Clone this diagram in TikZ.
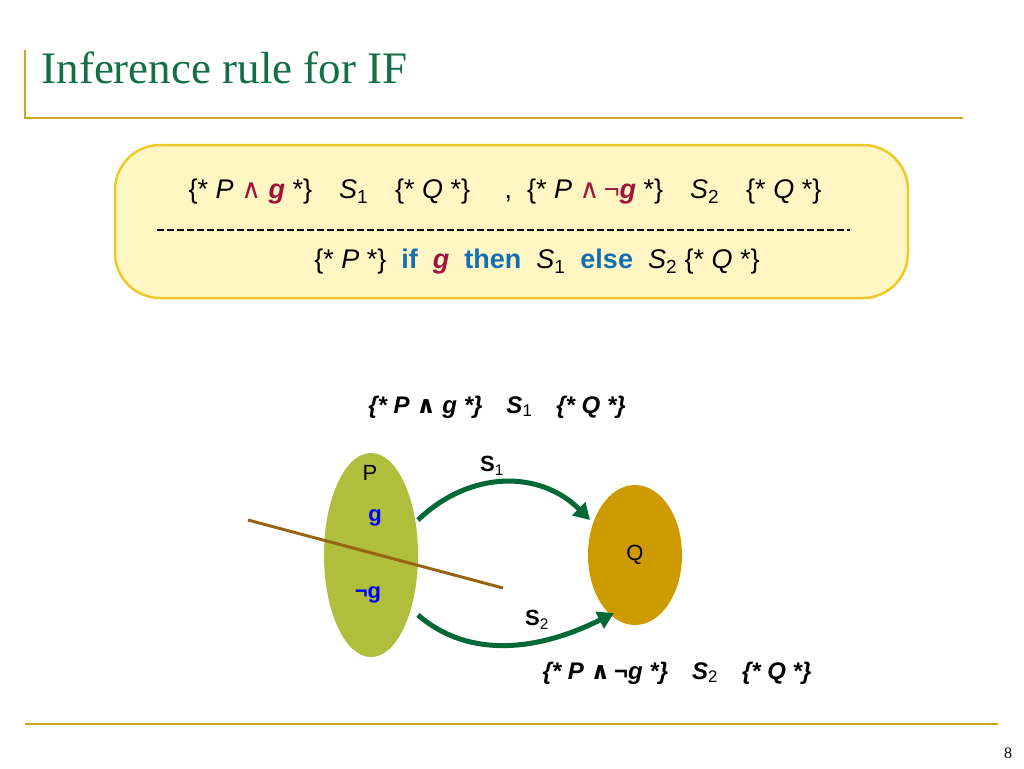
\documentclass[tikz,border=0pt]{standalone}
\usepackage{fontspec}
\setmainfont{Liberation Sans}
\newfontfamily\serif{Liberation Serif}
\newfontfamily\dv{DejaVu Sans}
\usetikzlibrary{arrows.meta,shapes.geometric}
\definecolor{titlegreen}{RGB}{20,110,70}
\definecolor{gold}{RGB}{205,165,30}
\definecolor{boxfill}{RGB}{255,246,196}
\definecolor{boxline}{RGB}{240,200,40}
\definecolor{kwblue}{RGB}{20,110,180}
\definecolor{gred}{RGB}{160,20,60}
\definecolor{olive}{RGB}{175,190,60}
\definecolor{qgold}{RGB}{205,155,0}
\definecolor{brown}{RGB}{150,100,20}
\definecolor{arrgreen}{RGB}{0,105,55}
\newcommand{\andsym}{{\dv\char"2227}}
\newcommand{\sub}[1]{\textsubscript{\upshape\mdseries #1}}
\tikzstyle{rule} = [font=\fontsize{27}{30}\selectfont]
\tikzstyle{tri} = [font=\fontsize{24}{28}\selectfont\bfseries\itshape]
\tikzstyle{set} = [ellipse, draw=none]
\tikzstyle{flow} = [line width=5pt, arrgreen, -{Triangle[length=16pt,width=18pt]}]
\tikzstyle{lbl} = [font=\fontsize{22}{26}\selectfont]
\begin{document}
\begin{tikzpicture}[x=1pt,y=-1pt]
\useasboundingbox (0,0) rectangle (1024,768);
% title
\node (title) [anchor=west, font=\serif\fontsize{45}{50}\selectfont, text=titlegreen] at (38,68) {Inference rule for IF};
\draw [gold, line width=2pt] (25,50) -- (25,118) -- (963,118);
% rule box
\node (rulebox) [draw=boxline, line width=2.5pt, fill=boxfill, rounded corners=45pt, minimum width=793pt, minimum height=153pt] at (511.5,221.5) {};
\node (prem) [rule] at (505,192) {\{* \textit{P} \textcolor{gred}{\andsym} \textcolor{gred}{\bfseries\itshape g} *\}\quad \textit{S}\sub{1}\quad \{* \textit{Q} *\}\quad\ ,\ \ \{* \textit{P} \textcolor{gred}{\andsym\,¬\bfseries\itshape g} *\}\quad \textit{S}\sub{2}\quad \{* \textit{Q} *\}};
\coordinate (dashL) at (157,230);
\coordinate (dashR) at (850,230);
\draw [line width=1.5pt, dash pattern=on 7pt off 3pt] (dashL) -- (dashR);
\node (concl) [rule] at (537,262) {\{* \textit{P} *\}\ \ \textcolor{kwblue}{\bfseries if}\ \ \textcolor{gred}{\bfseries\itshape g}\ \ \textcolor{kwblue}{\bfseries then}\ \ \textit{S}\sub{1}\ \ \textcolor{kwblue}{\bfseries else}\ \ \textit{S}\sub{2}\ \{* \textit{Q} *\}};
% sets
\node (top) [tri] at (497,407) {\{* P \andsym\ g *\}\quad S\sub{1}\quad \{* Q *\}};
\node (setP) [set, fill=olive, minimum width=94pt, minimum height=204pt] at (371,555) {};
\node (setQ) [set, fill=qgold, minimum width=94pt, minimum height=140pt] at (635,555) {};
\node (labP) [lbl] at (370,473) {P};
\node (labg) [lbl, text=blue, font=\fontsize{22}{26}\selectfont\bfseries] at (375,518) {g};
\node (labng) [lbl, text=blue, font=\fontsize{22}{26}\selectfont\bfseries] at (368,595) {¬g};
\node (labQ) [lbl] at (635,555) {Q};
\coordinate (cutA) at (248,520);
\coordinate (cutB) at (503,588);
\draw [brown, line width=3pt] (cutA) -- (cutB);
\coordinate (s1a) at (418,520);
\coordinate (s1b) at (590,520);
\coordinate (s2a) at (418,615);
\coordinate (s2b) at (614,613);
\draw [flow] (s1a) .. controls (470,470) and (540,470) .. (s1b);
\draw [flow] (s2a) .. controls (470,660) and (540,650) .. (s2b);
\node (labS1) [lbl, font=\fontsize{22}{26}\selectfont\bfseries] at (492,466) {S\sub{1}};
\node (labS2) [lbl, font=\fontsize{22}{26}\selectfont\bfseries] at (537,620) {S\sub{2}};
\node (bot) [tri] at (677,673) {\{* P \andsym\,¬g *\}\quad S\sub{2}\quad \{* Q *\}};
% footer
\draw [gold, line width=2pt] (25,724) -- (998,724);
\node (page) [font=\serif\fontsize{16}{18}\selectfont] at (1008,753) {8};
\end{tikzpicture}
\end{document}
